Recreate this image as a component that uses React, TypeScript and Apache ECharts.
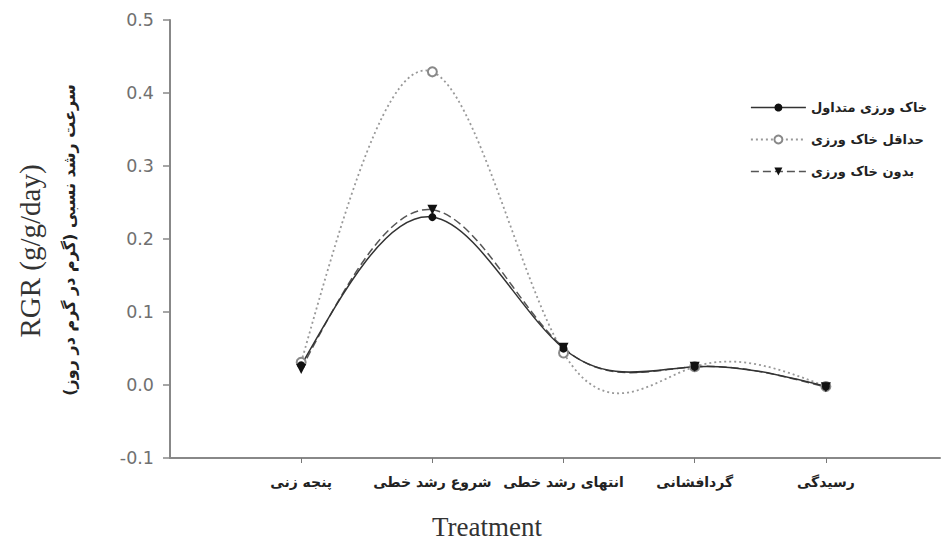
import React, { useEffect, useRef } from "react";
import * as echarts from "echarts";

const categories = ["پنجه زنی", "شروع رشد خطی", "انتهای رشد خطی", "گردافشانی", "رسیدگی"];
const seriesNames = ["خاک ورزی متداول", "حداقل خاک ورزی", "بدون خاک ورزی"];
const conventional = [0.027, 0.23, 0.05, 0.025, -0.002];
const minimum = [0.031, 0.429, 0.044, 0.025, -0.002];
const noTillage = [0.022, 0.24, 0.051, 0.025, -0.003];
const yTicks = [-0.1, 0.0, 0.1, 0.2, 0.3, 0.4, 0.5];

const persianFont = "'DejaVu Sans', 'Noto Sans', sans-serif";
const serifFont = "'Liberation Serif', 'DejaVu Serif', serif";

function toPairs(values: number[]) {
  return values.map((v, i) => [i, v]);
}

// Natural cubic spline (unit spacing) -> first derivatives at the knots
function splineDerivs(ys: number[]): number[] {
  const n = ys.length;
  const M = new Array(n).fill(0);
  if (n > 2) {
    const m = n - 2;
    const a = new Array(m).fill(1);
    const b = new Array(m).fill(4);
    const c = new Array(m).fill(1);
    const d = new Array(m);
    for (let i = 1; i <= m; i++) d[i - 1] = 6 * (ys[i + 1] - 2 * ys[i] + ys[i - 1]);
    for (let i = 1; i < m; i++) {
      const w = a[i] / b[i - 1];
      b[i] -= w * c[i - 1];
      d[i] -= w * d[i - 1];
    }
    const x = new Array(m);
    x[m - 1] = d[m - 1] / b[m - 1];
    for (let i = m - 2; i >= 0; i--) x[i] = (d[i] - c[i] * x[i + 1]) / b[i];
    for (let i = 0; i < m; i++) M[i + 1] = x[i];
  }
  const der: number[] = [];
  for (let i = 0; i < n; i++) {
    if (i < n - 1) der.push(ys[i + 1] - ys[i] - (2 * M[i] + M[i + 1]) / 6);
    else der.push(ys[i] - ys[i - 1] + (M[i - 1] + 2 * M[i]) / 6);
  }
  return der;
}

function splineSeries(ys: number[], stroke: string, width: number, dash: number[] | null, z: number) {
  const der = splineDerivs(ys);
  return {
    type: "custom",
    silent: true,
    z,
    data: [[0, ys[0]]],
    renderItem: (params: any, api: any) => {
      if (params.dataIndex !== 0) return null;
      const children: any[] = [];
      for (let i = 0; i < ys.length - 1; i++) {
        const p0 = api.coord([i, ys[i]]);
        const c1 = api.coord([i + 1 / 3, ys[i] + der[i] / 3]);
        const c2 = api.coord([i + 2 / 3, ys[i + 1] - der[i + 1] / 3]);
        const p1 = api.coord([i + 1, ys[i + 1]]);
        children.push({
          type: "bezierCurve",
          shape: { x1: p0[0], y1: p0[1], cpx1: c1[0], cpy1: c1[1], cpx2: c2[0], cpy2: c2[1], x2: p1[0], y2: p1[1] },
          style: { stroke, lineWidth: width, lineDash: dash ?? undefined, fill: "none" },
        });
      }
      return { type: "group", children };
    },
  };
}

export default function App() {
  const ref = useRef<HTMLDivElement>(null);
  useEffect(() => {
    if (!ref.current) return;
    const chart = echarts.init(ref.current, undefined, { renderer: "svg" });
    const idx = categories.map((_, i) => i);
    const styles = [
      { color: "#333", type: "solid" as any, width: 1.5 },
      { color: "#999", type: [2, 3] as any, width: 1.8 },
      { color: "#555", type: [8, 4] as any, width: 1.5 },
    ];
    chart.setOption({
      animation: false,
      backgroundColor: "#ffffff",
      grid: { left: 170, right: 6, top: 20, bottom: 88, containLabel: false },
      xAxis: {
        type: "value",
        min: -1,
        max: 4.87,
        splitLine: { show: false },
        axisLine: { show: true, onZero: false, lineStyle: { color: "#888", width: 2 } },
        axisTick: { show: true, length: 5, customValues: idx, lineStyle: { color: "#777", width: 1 } },
        axisLabel: {
          customValues: idx,
          formatter: (v: number) => categories[Math.round(v)] ?? "",
          margin: 17,
          fontFamily: persianFont,
          fontWeight: "bold",
          fontSize: 14,
          color: "#222",
        },
      },
      yAxis: {
        type: "value",
        min: yTicks[0],
        max: yTicks[yTicks.length - 1],
        interval: 0.1,
        splitLine: { show: false },
        axisLine: { show: true, onZero: false, lineStyle: { color: "#888", width: 2 } },
        axisTick: { show: true, length: 7, lineStyle: { color: "#888", width: 1.5 } },
        axisLabel: {
          formatter: (v: number) => v.toFixed(1),
          margin: 16,
          fontFamily: "'DejaVu Sans', sans-serif",
          fontSize: 17.5,
          color: "#707070",
        },
      },
      legend: {
        orient: "vertical",
        left: 745,
        top: 96,
        itemWidth: 55,
        itemHeight: 10,
        itemGap: 19,
        data: seriesNames.map((name, i) => ({
          name,
          lineStyle: { opacity: 1, color: styles[i].color, type: styles[i].type, width: styles[i].width },
        })),
        textStyle: { fontFamily: persianFont, fontWeight: "bold", fontSize: 13, color: "#222" },
      },
      series: [
        splineSeries(minimum, styles[1].color, styles[1].width, styles[1].type, 1),
        splineSeries(noTillage, styles[2].color, styles[2].width, styles[2].type, 1),
        splineSeries(conventional, styles[0].color, styles[0].width, null, 1),
        {
          name: seriesNames[1],
          type: "line",
          data: toPairs(minimum),
          symbol: "emptyCircle",
          symbolSize: 9,
          z: 3,
          lineStyle: { opacity: 0, color: styles[1].color, type: styles[1].type, width: styles[1].width },
          itemStyle: { color: "#888", borderColor: "#888", borderWidth: 1.2 },
        },
        {
          name: seriesNames[2],
          type: "line",
          data: toPairs(noTillage),
          symbol: "triangle",
          symbolRotate: 180,
          symbolSize: 10,
          z: 4,
          lineStyle: { opacity: 0, color: styles[2].color, type: styles[2].type, width: styles[2].width },
          itemStyle: { color: "#111" },
        },
        {
          name: seriesNames[0],
          type: "line",
          data: toPairs(conventional),
          symbol: "circle",
          symbolSize: 8,
          z: 5,
          lineStyle: { opacity: 0, color: styles[0].color, type: "solid", width: styles[0].width },
          itemStyle: { color: "#111" },
        },
      ],
      graphic: [
        {
          type: "text",
          x: 30,
          y: 251,
          rotation: Math.PI / 2,
          style: {
            text: "RGR (g/g/day)",
            align: "center",
            verticalAlign: "middle",
            fontFamily: serifFont,
            fontSize: 29,
            fill: "#333",
          },
        },
        {
          type: "text",
          x: 69,
          y: 240,
          rotation: Math.PI / 2,
          style: {
            text: "سرعت رشد نسبی (گرم در گرم در روز)",
            align: "center",
            verticalAlign: "middle",
            fontFamily: persianFont,
            fontWeight: "bold",
            fontSize: 16,
            fill: "#222",
          },
        },
        {
          type: "text",
          x: 487,
          y: 527,
          style: {
            text: "Treatment",
            align: "center",
            verticalAlign: "middle",
            fontFamily: serifFont,
            fontSize: 27,
            fill: "#333",
          },
        },
      ],
    });
    return () => chart.dispose();
  }, []);
  return (
    <div
      ref={ref}
      style={{ position: "fixed", left: 0, top: 0, width: 946, height: 546, background: "#fff" }}
    />
  );
}
